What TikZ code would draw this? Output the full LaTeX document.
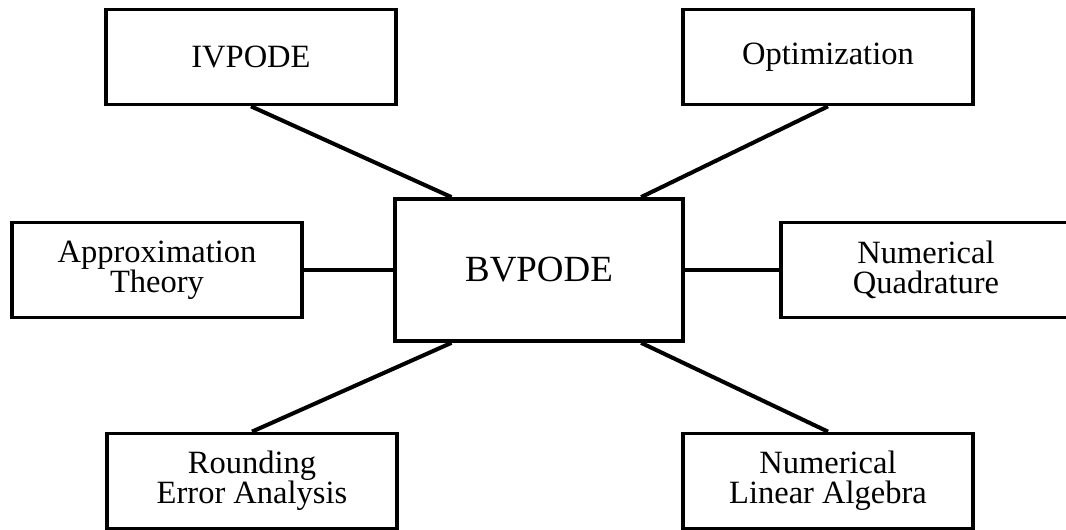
\documentclass[tikz,border=0pt]{standalone}
\usepackage{fontspec}
\setmainfont{Liberation Serif}
\usetikzlibrary{calc}

\begin{document}
\begin{tikzpicture}[
		topic/.style={shape=rectangle, draw=black, line width=2.1pt, minimum width=5.8cm, minimum height=1.9cm, align=center, font=\fontsize{18.5}{17}\selectfont},
		hub/.style={topic, minimum width=5.76cm, minimum height=2.84cm, font=\fontsize{21}{24}\selectfont},
		link/.style={draw=black, line width=2.3pt}
	]
			\useasboundingbox (0,0) rectangle (21.32,10.6);

			\node[hub] (bv) at (10.78,5.2) {BVPODE};
			\node[topic] (iv) at (5.02,9.46) {IVPODE};
			\node[topic] (opt) at (16.56,9.46) {Optimization};
			\node[topic] (approx) at (3.14,5.2) {Approximation\\Theory};
			\node[topic] (quad) at (18.52,5.2) {Numerical\\Quadrature};
			\node[topic] (round) at (5.04,0.98) {Rounding\\Error Analysis};
			\node[topic] (nla) at (16.56,0.98) {Numerical\\Linear Algebra};

			\path[link] (iv.south) edge ($(bv.north west)!0.2!(bv.north east)$);
			\path[link] (opt.south) edge ($(bv.north west)!0.85!(bv.north east)$);
			\path[link] (approx.east) edge (bv.west);
			\path[link] (bv.east) edge (quad.west);
			\path[link] ($(bv.south west)!0.2!(bv.south east)$) edge (round.north);
			\path[link] ($(bv.south west)!0.85!(bv.south east)$) edge (nla.north);
		\end{tikzpicture}
\end{document}
